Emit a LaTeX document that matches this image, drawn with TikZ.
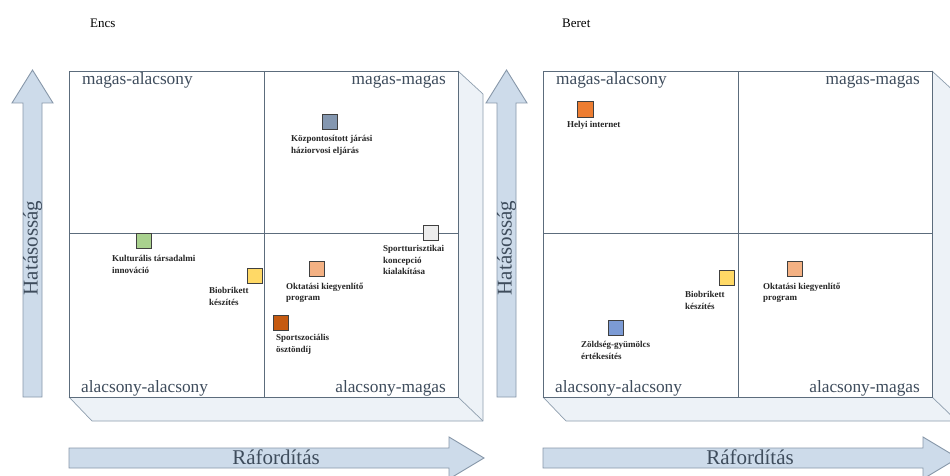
\documentclass[tikz,border=0pt]{standalone}
\usepackage{fontspec}
\setmainfont{Liberation Serif}
\definecolor{frame}{HTML}{5C6C7C}
\definecolor{faceedge}{HTML}{8E9EAE}
\definecolor{face}{HTML}{EDF2F7}
\definecolor{arrfill}{HTML}{CDDBEA}
\definecolor{arredge}{HTML}{8797A9}
\definecolor{qtext}{HTML}{3E4C5C}
\definecolor{cGray}{HTML}{8497B0}
\definecolor{cLight}{HTML}{EDEDED}
\definecolor{cGreen}{HTML}{A9D18E}
\definecolor{cYellow}{HTML}{FFD966}
\definecolor{cPeach}{HTML}{F4B183}
\definecolor{cRust}{HTML}{C55A11}
\definecolor{cOrange}{HTML}{ED7D31}
\definecolor{cBlue}{HTML}{7C9BD5}
\newcommand\drawpanel[1]{%
  \fill[face] (458,71) -- (483,94) -- (483,421) -- (458,397) -- cycle;
  \fill[face] (69,397) -- (458,397) -- (483,421) -- (92,421) -- cycle;
  \draw[depthedge] (458,71) -- (483,94) -- (483,421) -- (92,421) -- (69,397);
  \draw[depthedge] (458,397) -- (483,421);
  \draw[frameln, fill=white] (69,71) rectangle (458,397);
  \draw[frameln] (264,71) -- (264,397);
  \draw[frameln] (69,233) -- (458,233);
  \draw[bigarrow] (23,397) -- (23,103) -- (12,103) -- (32.5,70) -- (53,103) -- (42,103) -- (42,397) -- cycle;
  \draw[bigarrow] (69,448) -- (449,448) -- (449,437) -- (484,458) -- (449,479) -- (449,468) -- (69,468) -- cycle;
  \node[quad, anchor=base west] (#1-hl) at (82,85) {magas-alacsony};
  \node[quad, anchor=base east] (#1-hh) at (446,85) {magas-magas};
  \node[quad, anchor=base west] (#1-ll) at (81,392) {alacsony-alacsony};
  \node[quad, anchor=base east] (#1-lh) at (446,392) {alacsony-magas};
  \node[axis, rotate=90, anchor=base] (#1-y) at (37.5,248) {Hatásosság};
  \node[axis, anchor=base] (#1-x) at (276,464) {Ráfordítás};
}
\begin{document}
\begin{tikzpicture}[x=1pt,y=-1pt,
  frameln/.style={draw=frame, line width=0.9pt},
  depthedge/.style={draw=faceedge, line width=0.7pt, line join=round},
  bigarrow/.style={fill=arrfill, draw=arredge, line width=0.9pt, line join=miter},
  quad/.style={font=\fontsize{17.3}{20}\selectfont, text=qtext, inner sep=0pt},
  axis/.style={font=\fontsize{21}{24}\selectfont, text=qtext, inner sep=0pt},
  item/.style={draw=black!75, line width=0.7pt, minimum size=15pt, inner sep=0pt},
  lbl/.style={font=\fontsize{9}{11.5}\selectfont\bfseries, text=black!85, align=left, anchor=north west, inner sep=0pt},
  title/.style={font=\fontsize{13}{15}\selectfont, anchor=base west, inner sep=0pt}]
\useasboundingbox (0,0) rectangle (950,476);
% ---------- left panel: Encs ----------
\node[title] (t1) at (90,28) {Encs};
\drawpanel{L}
\node[item, fill=cGray]  (kozp) at (329.5,122) {};
\node[lbl] (kozpL) at (291,135.5) {Központosított járási\\háziorvosi eljárás};
\node[item, fill=cLight] (sport) at (430.5,233) {};
\node[lbl] (sportL) at (383,245.5) {Sportturisztikai\\koncepció\\kialakítása};
\node[item, fill=cGreen] (kult) at (144,240.5) {};
\node[lbl] (kultL) at (112,255.5) {Kulturális társadalmi\\innováció};
\node[item, fill=cYellow] (bio) at (254.5,275.5) {};
\node[lbl] (bioL) at (209,287.5) {Biobrikett\\készítés};
\node[item, fill=cPeach] (okt) at (316.5,269) {};
\node[lbl] (oktL) at (286,282.5) {Oktatási kiegyenlítő\\program};
\node[item, fill=cRust] (szoc) at (281,322.5) {};
\node[lbl] (szocL) at (276,334.5) {Sportszociális\\ösztöndíj};
% ---------- right panel: Beret ----------
\node[title] (t2) at (562,28) {Beret};
\begin{scope}[xshift=474pt]
\drawpanel{R}
\end{scope}
\node[item, fill=cOrange, minimum size=16pt] (helyi) at (585.5,109.5) {};
\node[lbl] (helyiL) at (567,121.5) {Helyi internet};
\node[item, fill=cYellow] (bio2) at (726.5,278) {};
\node[lbl] (bio2L) at (685,291.5) {Biobrikett\\készítés};
\node[item, fill=cPeach] (okt2) at (795,269) {};
\node[lbl] (okt2L) at (763,282.5) {Oktatási kiegyenlítő\\program};
\node[item, fill=cBlue] (zold) at (615.5,327.5) {};
\node[lbl] (zoldL) at (581,341.5) {Zöldség-gyümölcs\\értékesítés};
\end{tikzpicture}
\end{document}
